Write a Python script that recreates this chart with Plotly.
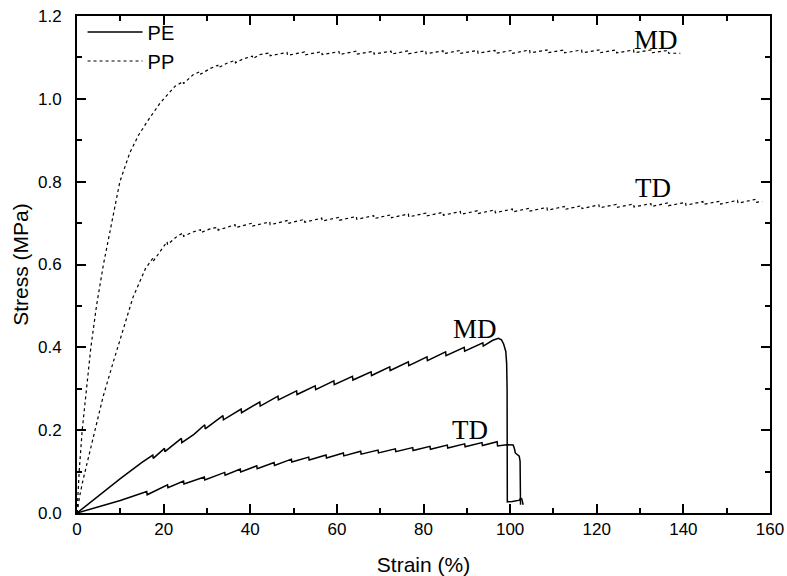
import plotly.graph_objects as go

# ---------------- data ----------------
pe_md_strain = [0, 5, 10, 15, 17.5, 17.6, 20.2, 20.3, 24.1, 24.2, 27, 29.5, 29.6, 33.7, 33.8,
                37.9, 38.0, 42.2, 42.3, 46.4, 46.5, 50.7, 50.8, 55.0, 55.1, 59.3, 59.4,
                63.6, 63.7, 67.9, 68.0, 72.2, 72.3, 76.5, 76.6, 80.8, 80.9, 85.1, 85.2,
                89.4, 89.5, 93.7, 93.8, 96.0, 97.3, 98.0, 98.5, 99.0, 99.2, 99.3, 99.35,
                100.5, 102.2, 102.4, 102.7, 103.0]
pe_md_stress = [0, 0.042, 0.083, 0.122, 0.140, 0.132, 0.156, 0.148, 0.180, 0.170, 0.190, 0.213, 0.203,
                0.235, 0.225, 0.251, 0.242, 0.268, 0.258, 0.282, 0.273, 0.295, 0.286, 0.307, 0.298,
                0.319, 0.310, 0.330, 0.321, 0.341, 0.332, 0.353, 0.344, 0.365, 0.356, 0.377, 0.368,
                0.389, 0.380, 0.400, 0.391, 0.411, 0.403, 0.417, 0.422, 0.418, 0.408, 0.390, 0.360,
                0.300, 0.027, 0.028, 0.031, 0.036, 0.034, 0.020]

pe_td_strain = [0, 10, 16.1, 16.2, 20.9, 21.0, 24.6, 24.7, 29.4, 29.5, 34.1, 34.2, 37.7, 37.8,
                41.5, 41.6, 45.5, 45.6, 49.5, 49.6, 53.5, 53.6, 57.5, 57.6, 61.5, 61.6,
                65.5, 65.6, 69.5, 69.6, 73.5, 73.6, 77.5, 77.6, 81.5, 81.6, 85.5, 85.6,
                89.5, 89.6, 93.5, 93.6, 97.0, 97.1, 99.2, 100.7, 101.0, 101.2, 102.1,
                102.3, 102.4]
pe_td_stress = [0, 0.030, 0.052, 0.044, 0.068, 0.061, 0.077, 0.070, 0.087, 0.080, 0.098, 0.091,
                0.106, 0.099, 0.114, 0.107, 0.122, 0.115, 0.130, 0.123, 0.135, 0.128, 0.140, 0.133,
                0.145, 0.138, 0.149, 0.142, 0.152, 0.145, 0.155, 0.148, 0.158, 0.151, 0.161, 0.154,
                0.164, 0.157, 0.167, 0.160, 0.170, 0.163, 0.172, 0.162, 0.165, 0.164, 0.155,
                0.145, 0.137, 0.125, 0.020]

pp_md_strain = [0, 0.5, 1.2, 2.2, 3.2, 4.5, 6.1, 8.0, 9.9, 12.2, 14.2, 16.4, 19.2, 22.6,
                24.5, 24.6, 26.8, 28.5, 28.6, 30.7, 32.5, 32.6, 34.6, 36.5, 36.6, 38.3,
                40.5, 40.6, 42.3, 44.5, 44.6, 48.5, 48.6, 52.5, 52.6, 56.5, 56.6, 60.5, 60.6,
                64.5, 64.6, 68.5, 68.6, 72.5, 72.6, 76.5, 76.6, 80.5, 80.6, 84.5, 84.6,
                88.5, 88.6, 92.5, 92.6, 96.5, 96.6, 100.5, 100.6, 104.5, 104.6, 108.5, 108.6,
                112.5, 112.6, 116.5, 116.6, 120.5, 120.6, 124.5, 124.6, 128.5, 128.6,
                132.5, 132.6, 136.5, 136.6, 139.3]
pp_md_stress = [0, 0.10, 0.20, 0.30, 0.40, 0.50, 0.60, 0.70, 0.80, 0.870, 0.912, 0.948, 0.990, 1.030,
                1.042, 1.037, 1.058, 1.066, 1.060, 1.073, 1.081, 1.075, 1.086, 1.093, 1.087, 1.096,
                1.103, 1.097, 1.107, 1.111, 1.104, 1.112, 1.105, 1.113, 1.106, 1.114, 1.107, 1.114, 1.107,
                1.115, 1.108, 1.115, 1.108, 1.115, 1.108, 1.116, 1.109, 1.116, 1.109, 1.116, 1.109,
                1.117, 1.110, 1.117, 1.110, 1.117, 1.110, 1.117, 1.110, 1.118, 1.111, 1.118, 1.111,
                1.118, 1.111, 1.118, 1.111, 1.118, 1.111, 1.118, 1.111, 1.118, 1.111,
                1.118, 1.111, 1.117, 1.110, 1.110]

pp_td_strain = [0, 0.6, 1.4, 2.8, 4.2, 6.0, 8.3, 10.6, 12.9, 15.8, 17.5, 17.6, 19.2, 20.8, 20.9,
                23.1, 24.5, 24.6, 26.6, 28.5, 28.6, 30.7, 32.5, 32.6, 36.5, 36.6, 40.5, 40.6,
                44.5, 44.6, 48.5, 48.6, 52.5, 52.6, 56.5, 56.6, 60.5, 60.6, 64.5, 64.6,
                68.5, 68.6, 72.5, 72.6, 76.5, 76.6, 80.5, 80.6, 84.5, 84.6, 88.5, 88.6,
                92.5, 92.6, 96.5, 96.6, 100.5, 100.6, 104.5, 104.6, 108.5, 108.6, 112.5, 112.6,
                116.5, 116.6, 120.5, 120.6, 124.5, 124.6, 128.5, 128.6, 132.5, 132.6,
                136.5, 136.6, 140.5, 140.6, 144.5, 144.6, 148.5, 148.6, 152.5, 152.6,
                156.5, 156.6, 158.2]
pp_td_stress = [0, 0.04, 0.08, 0.14, 0.20, 0.28, 0.362, 0.442, 0.520, 0.590, 0.615, 0.608, 0.632, 0.655, 0.648,
                0.668, 0.676, 0.668, 0.678, 0.684, 0.677, 0.686, 0.690, 0.683, 0.696, 0.689, 0.700, 0.693,
                0.703, 0.696, 0.706, 0.699, 0.709, 0.702, 0.712, 0.705, 0.714, 0.707, 0.716, 0.709,
                0.718, 0.711, 0.720, 0.713, 0.722, 0.715, 0.724, 0.717, 0.726, 0.719, 0.728, 0.721,
                0.730, 0.723, 0.732, 0.725, 0.734, 0.727, 0.736, 0.729, 0.738, 0.731, 0.740, 0.733,
                0.742, 0.735, 0.744, 0.737, 0.745, 0.738, 0.746, 0.739, 0.747, 0.740,
                0.749, 0.742, 0.750, 0.743, 0.752, 0.745, 0.753, 0.746, 0.755, 0.748,
                0.757, 0.750, 0.752]

label_text = ["MD", "TD", "MD", "TD"]
label_x = [133.7, 133.0, 91.9, 90.8]
label_y = [1.142, 0.785, 0.444, 0.200]

# ---------------- figure ----------------
fig = go.Figure()
fig.add_trace(go.Scatter(x=pe_md_strain, y=pe_md_stress, mode="lines", name="PE",
                         line=dict(color="black", width=1.5), legendgroup="PE"))
fig.add_trace(go.Scatter(x=pe_td_strain, y=pe_td_stress, mode="lines", name="PE",
                         line=dict(color="black", width=1.5), legendgroup="PE", showlegend=False))
fig.add_trace(go.Scatter(x=pp_md_strain, y=pp_md_stress, mode="lines", name="PP",
                         line=dict(color="black", width=1.2, dash="dot"), legendgroup="PP"))
fig.add_trace(go.Scatter(x=pp_td_strain, y=pp_td_stress, mode="lines", name="PP",
                         line=dict(color="black", width=1.2, dash="dot"), legendgroup="PP", showlegend=False))

for t, xx, yy in zip(label_text, label_x, label_y):
    fig.add_annotation(x=xx, y=yy, text=t, showarrow=False,
                       font=dict(family="Liberation Serif, Times New Roman, serif", size=27, color="black"))

axis_font = dict(family="Liberation Sans, Arial, sans-serif", size=17, color="black")
title_font = dict(family="Liberation Sans, Arial, sans-serif", size=21, color="black")

fig.update_layout(
    width=787, height=576,
    margin=dict(l=77, r=17, t=16, b=63),
    paper_bgcolor="white", plot_bgcolor="white",
    showlegend=True,
    legend=dict(x=0.008, y=1.007, xanchor="left", yanchor="top", bgcolor="rgba(0,0,0,0)",
                font=dict(family="Liberation Sans, Arial, sans-serif", size=20, color="black"),
                itemwidth=55, tracegroupgap=0),
    xaxis=dict(range=[0, 160], tickmode="linear", tick0=0, dtick=20,
               ticks="inside", ticklen=9, tickwidth=1.5, tickcolor="black", mirror="ticks",
               minor=dict(ticks="inside", dtick=10, tick0=0, ticklen=5, tickwidth=1.5, tickcolor="black"),
               showline=True, linewidth=2, linecolor="black", showgrid=False, zeroline=False,
               tickfont=axis_font, automargin=False,
               title=dict(text="Strain (%)", font=title_font, standoff=19)),
    yaxis=dict(range=[0, 1.2], tickmode="linear", tick0=0, dtick=0.2, tickformat=".1f",
               ticks="inside", ticklen=9, tickwidth=1.5, tickcolor="black", mirror="ticks",
               minor=dict(ticks="inside", dtick=0.1, tick0=0, ticklen=5, tickwidth=1.5, tickcolor="black"),
               showline=True, linewidth=2, linecolor="black", showgrid=False, zeroline=False,
               tickfont=axis_font, ticklabelstandoff=10, automargin=False,
               title=dict(text="Stress (MPa)", font=title_font, standoff=4)),
)

fig.write_html("out.html", config={"displayModeBar": False},
               post_script="document.body.style.margin='0';")
